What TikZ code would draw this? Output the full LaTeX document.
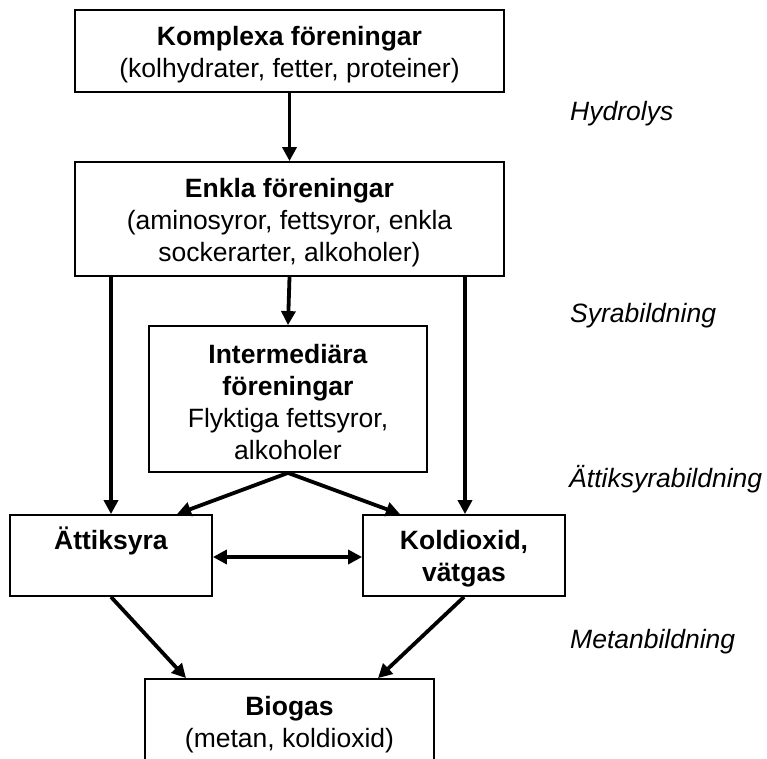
\documentclass[tikz,border=0pt]{standalone}
\usepackage{fontspec}
\setmainfont{Liberation Sans}
\usetikzlibrary{arrows.meta}
\newcommand{\toppad}{\rule{0pt}{25.5pt}}
\begin{document}
\begin{tikzpicture}[x=1pt,y=-1pt,
  box/.style={draw=black, line width=1.8pt, inner sep=0pt, align=center,
    font=\fontsize{26.5}{32}\selectfont},
  lab/.style={font=\fontsize{26.5}{32}\selectfont\itshape, anchor=base west, inner sep=0pt},
  arr/.style={line width=3.8pt, -{Triangle[length=14pt,width=14pt]}},
  darr/.style={line width=3.8pt, {Triangle[length=14pt,width=14pt]}-{Triangle[length=14pt,width=14pt]}}]
\useasboundingbox (0,0) rectangle (767,758);

\node[box, minimum width=429pt, minimum height=82pt] (komplexa) at (289.5,51)
  {\toppad\textbf{Komplexa föreningar}\\(kolhydrater, fetter, proteiner)};
\node[box, minimum width=429pt, minimum height=114pt] (enkla) at (289.5,219)
  {\toppad\textbf{Enkla föreningar}\\(aminosyror, fettsyror, enkla\\sockerarter, alkoholer)};
\node[box, minimum width=278pt, minimum height=146pt] (inter) at (288,399)
  {\toppad\textbf{Intermediära}\\\textbf{föreningar}\\Flyktiga fettsyror,\\alkoholer};
\node[box, minimum width=202pt, minimum height=81pt] (attik) at (111,555.5)
  {\toppad\textbf{Ättiksyra}\\\phantom{g}};
\node[box, minimum width=202pt, minimum height=81pt] (kold) at (464,555.5)
  {\toppad\textbf{Koldioxid,}\\\textbf{vätgas}};
\node[box, minimum width=289pt, minimum height=84pt] (biogas) at (289.5,721)
  {\toppad\textbf{Biogas}\\(metan, koldioxid)};

\node[lab] (hydro) at (570,120) {Hydrolys};
\node[lab] (syra) at (570,322) {Syrabildning};
\node[lab] (attikb) at (569,487) {Ättiksyrabildning};
\node[lab] (metan) at (570,648) {Metanbildning};

\draw[arr] (komplexa.south) -- (enkla.north);
\draw[arr] (enkla.south) -- (inter.north);
\draw[arr] (attik.north |- enkla.south) -- (attik.north);
\draw[arr] ([xshift=1pt]kold.north |- enkla.south) -- ([xshift=1pt]kold.north);
\draw[arr] (inter.south) -- ([xshift=66pt]attik.north);
\draw[arr] (inter.south) -- ([xshift=-64pt]kold.north);
\draw[darr] ([yshift=-1.5pt]attik.east) -- ([yshift=-1.5pt]kold.west);
\draw[arr] (attik.south) -- ([xshift=-103.5pt]biogas.north);
\draw[arr] (kold.south) -- ([xshift=88.5pt]biogas.north);
\end{tikzpicture}
\end{document}
